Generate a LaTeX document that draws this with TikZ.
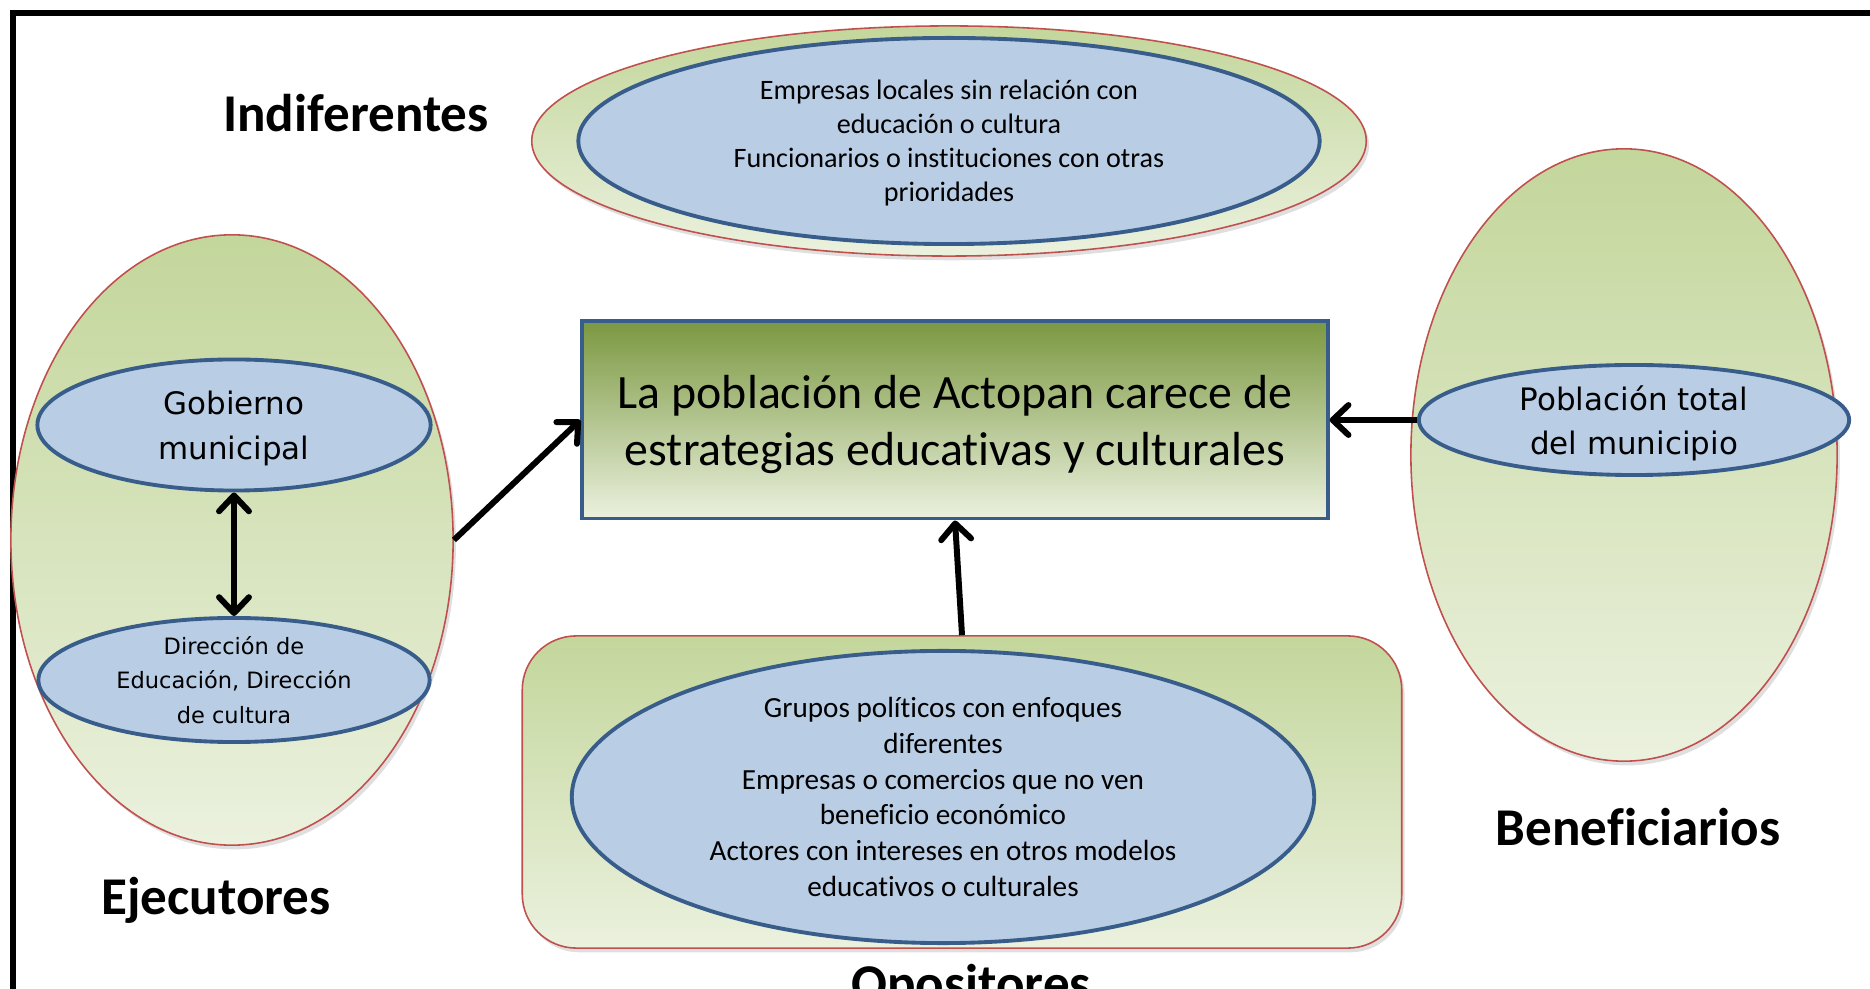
\documentclass[tikz,border=0pt]{standalone}
\usepackage{fontspec}
\setmainfont{Carlito}[Ligatures=NoCommon]
\newfontfamily\verd{DejaVu Sans}
\usetikzlibrary{shapes.geometric}
\usetikzlibrary{arrows.meta}
\usetikzlibrary{shadows}

\definecolor{hojaverde}{HTML}{C3D69B}
\definecolor{verdeclaro}{HTML}{EBF1DE}
\definecolor{olivo}{HTML}{7B9841}
\definecolor{azulclaro}{HTML}{B9CDE5}
\definecolor{azulborde}{HTML}{385D8A}
\definecolor{rojoborde}{HTML}{C0504D}

\begin{document}
\begin{tikzpicture}[x=0.01cm,y=-0.01cm,
	grupo/.style={draw=rojoborde, line width=.45pt, top color=hojaverde,
		middle color=hojaverde, bottom color=verdeclaro, inner sep=0pt,
		drop shadow={opacity=.25, shadow xshift=.8pt, shadow yshift=-1.2pt}},
	actor/.style={ellipse, draw=azulborde, line width=1.1pt, fill=azulclaro,
		inner sep=0pt, align=center},
	titulo/.style={anchor=base, font=\bfseries\fontsize{15.1}{18}\selectfont},
	flecha/.style={line width=1.7pt, -{Straight Barb[round, length=4.5pt, width=8.5pt]}},
	doble/.style={line width=1.7pt, {Straight Barb[round, length=4.5pt, width=8.5pt]}-{Straight Barb[round, length=4.5pt, width=8.5pt]}}]
				\useasboundingbox (0,0) rectangle (1870,989);
				\draw[line width=1.7pt] (13,989) -- (13,13) -- (1870,13);
				% indiferentes
				\node[grupo, ellipse, minimum width=8.34cm, minimum height=2.3cm] (indif) at (949,141) {};
				\node[actor, minimum width=7.41cm, minimum height=2.06cm, text depth=0pt,
					font=\fontsize{8}{9.7}\selectfont] (empresas) at (949,141)
					{Empresas locales sin relación con\\educación o cultura\\Funcionarios o instituciones con otras\\prioridades};
				\node[titulo] (tindif) at (356,132) {Indiferentes};
				% problema central
				\node[draw=azulborde, line width=1.1pt, top color=olivo, middle color=hojaverde!95!olivo,
					bottom color=verdeclaro, minimum width=7.45cm, minimum height=1.97cm, align=center,
					text depth=0pt, font=\fontsize{13.6}{16.2}\selectfont] (problema) at (955,420)
					{La población de Actopan carece de\\estrategias educativas y culturales};
				% ejecutores
				\node[grupo, ellipse, minimum width=4.42cm, minimum height=6.1cm] (ejec) at (232,540) {};
				\node[actor, minimum width=3.93cm, minimum height=1.31cm, text depth=0pt,
					font=\verd\fontsize{8.8}{12.8}\selectfont] (gob) at (234,425) {Gobierno\\municipal};
				\node[actor, minimum width=3.91cm, minimum height=1.24cm,
					font=\verd\fontsize{6.4}{9.8}\selectfont] (dir) at (234,680) {Dirección de\\Educación, Dirección\\de cultura};
				\node[titulo] (tejec) at (216,915) {Ejecutores};
				% beneficiarios
				\node[grupo, ellipse, minimum width=4.26cm, minimum height=6.12cm] (benef) at (1624,455) {};
				\node[actor, minimum width=4.3cm, minimum height=1.1cm, text depth=0pt,
					font=\verd\fontsize{8.8}{12.5}\selectfont] (pob) at (1634,420) {Población total\\del municipio};
				\node[titulo] (tbenef) at (1638,846) {Beneficiarios};
				% opositores
				\node[grupo, rectangle, rounded corners=.54cm, minimum width=8.79cm, minimum height=3.12cm] (opos) at (962,792) {};
				\node[actor, minimum width=7.42cm, minimum height=2.92cm,
					font=\fontsize{8.3}{10.2}\selectfont] (grupos) at (943,797)
					{Grupos políticos con enfoques\\diferentes\\Empresas o comercios que no ven\\beneficio económico\\Actores con intereses en otros modelos\\educativos o culturales};
				\node[titulo] (topos) at (971,1001) {Opositores};
				% flechas
				\draw[doble] (gob.south) -- (dir.north);
				\draw[flecha] (ejec.east) -- (problema.west);
				\draw[flecha] (pob.west) -- (problema.east);
				\draw[flecha] (opos.north) -- (problema.south);
			\end{tikzpicture}
\end{document}
